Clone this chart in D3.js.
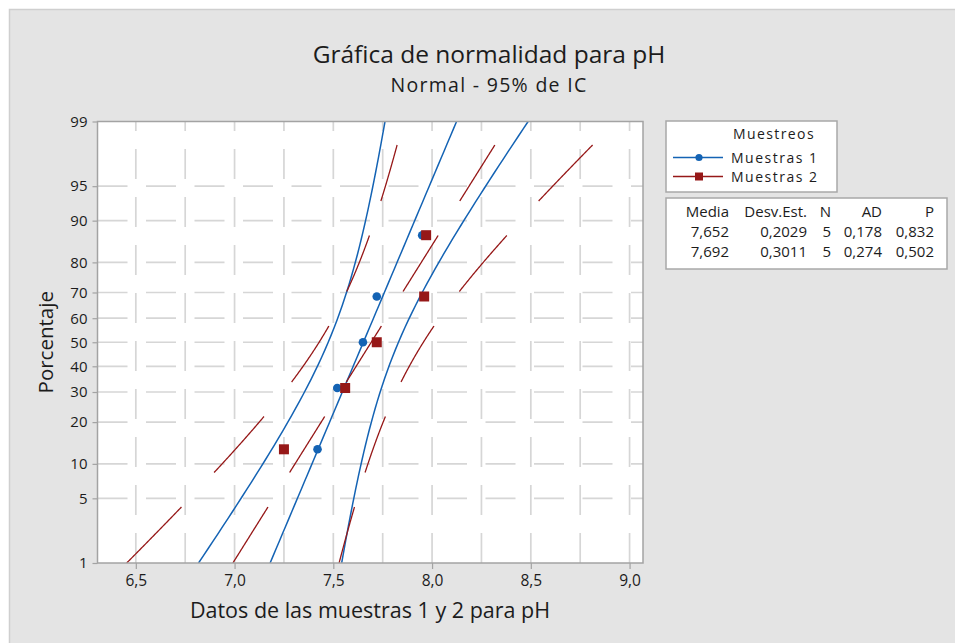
<!DOCTYPE html>
<html>
<head>
<meta charset="utf-8">
<script src="https://cdn.jsdelivr.net/npm/d3@7"></script>
<style>
  body { margin: 0; background: #ffffff; }
  svg { display: block; }
  text { font-family: "Open Sans", "Noto Sans", "DejaVu Sans", sans-serif; fill: #1c1c1c; }
</style>
</head>
<body>
<svg id="chart" width="955" height="643"></svg>
<script>
// ---- data ----
const seriesNames = ["Muestras 1", "Muestras 2"];
const muestras1 = [7.42, 7.52, 7.65, 7.72, 7.95];
const muestras2 = [7.25, 7.56, 7.72, 7.96, 7.97];
const adValues = ["0,178", "0,274"];
const pValues = ["0,832", "0,502"];
const pctTicks = [1, 5, 10, 20, 30, 40, 50, 60, 70, 80, 90, 95, 99];
const xTicks = [6.5, 7.0, 7.5, 8.0, 8.5, 9.0];
const xGridValues = [6.5, 6.75, 7.0, 7.25, 7.5, 7.75, 8.0, 8.25, 8.5, 8.75, 9.0];
const tableHeaders = ["Media", "Desv.Est.", "N", "AD", "P"];
const confLevel = 0.95;

// ---- helpers ----
// inverse standard normal CDF (Acklam)
function probit(p) {
  const a = [-3.969683028665376e+01, 2.209460984245205e+02, -2.759285104469687e+02, 1.383577518672690e+02, -3.066479806614716e+01, 2.506628277459239e+00];
  const b = [-5.447609879822406e+01, 1.615858368580409e+02, -1.556989798598866e+02, 6.680131188771972e+01, -1.328068155288572e+01];
  const c = [-7.784894002430293e-03, -3.223964580411365e-01, -2.400758277161838e+00, -2.549732539343734e+00, 4.374664141464968e+00, 2.938163982698783e+00];
  const d = [7.784695709041462e-03, 3.224671290700398e-01, 2.445134137142996e+00, 3.754408661907416e+00];
  const pl = 0.02425, ph = 1 - pl;
  let q, r;
  if (p < pl) {
    q = Math.sqrt(-2 * Math.log(p));
    return (((((c[0]*q+c[1])*q+c[2])*q+c[3])*q+c[4])*q+c[5]) / ((((d[0]*q+d[1])*q+d[2])*q+d[3])*q+1);
  }
  if (p > ph) {
    q = Math.sqrt(-2 * Math.log(1 - p));
    return -(((((c[0]*q+c[1])*q+c[2])*q+c[3])*q+c[4])*q+c[5]) / ((((d[0]*q+d[1])*q+d[2])*q+d[3])*q+1);
  }
  q = p - 0.5; r = q * q;
  return (((((a[0]*r+a[1])*r+a[2])*r+a[3])*r+a[4])*r+a[5])*q / (((((b[0]*r+b[1])*r+b[2])*r+b[3])*r+b[4])*r+1);
}
// gamma for half-integer / integer arguments
function gammaHalf(x) {
  if (Math.abs(x - 0.5) < 1e-9) return Math.sqrt(Math.PI);
  if (Math.abs(x - 1) < 1e-9) return 1;
  return (x - 1) * gammaHalf(x - 1);
}
function c4(n) {
  return Math.sqrt(2 / (n - 1)) * gammaHalf(n / 2) / gammaHalf((n - 1) / 2);
}
const comma = (f) => (v) => d3.format(f)(v).replace(".", ",");

// ---- layout ----
const svg = d3.select("#chart");
const plot = { left: 97.5, right: 643, top: 121.5, bottom: 563 };

// background panel
svg.append("rect").attr("x", 9.5).attr("y", 9.5).attr("width", 960).attr("height", 650)
  .attr("fill", "#e4e4e4").attr("stroke", "#cfcfcf").attr("stroke-width", 1.5);
svg.append("rect").attr("x", plot.left).attr("y", plot.top)
  .attr("width", plot.right - plot.left).attr("height", plot.bottom - plot.top)
  .attr("fill", "#ffffff");

const zEdge = probit(pctTicks[pctTicks.length - 1] / 100);
const x = d3.scaleLinear().domain([6.306, 9.068]).range([plot.left, plot.right]);
const y = d3.scaleLinear().domain([-zEdge, zEdge]).range([plot.bottom, plot.top]);

// grid
const grid = svg.append("g").attr("stroke", "#d6d6d6").attr("stroke-width", 1.7).attr("fill", "none");
grid.selectAll("line.v").data(xGridValues).join("line").attr("class", "v")
  .attr("x1", d => x(d)).attr("x2", d => x(d))
  .attr("y1", plot.bottom).attr("y2", plot.top)
  .attr("stroke-dasharray", "30,18");
grid.selectAll("line.h").data(pctTicks.slice(1, -1)).join("line").attr("class", "h")
  .attr("x1", plot.left).attr("x2", plot.right)
  .attr("y1", d => y(probit(d / 100))).attr("y2", d => y(probit(d / 100)))
  .attr("stroke-dasharray", "30,18.5");

// clip
svg.append("clipPath").attr("id", "plotClip").append("rect")
  .attr("x", plot.left).attr("y", plot.top)
  .attr("width", plot.right - plot.left).attr("height", plot.bottom - plot.top);

// ---- series ----
const series = [
  { name: seriesNames[0], values: muestras1, color: "#1463b4", marker: "circle", dashed: false },
  { name: seriesNames[1], values: muestras2, color: "#961818", marker: "square", dashed: true }
];
const zc = probit(1 - (1 - confLevel) / 2);

series.forEach(s => {
  s.n = s.values.length;
  s.mean = d3.mean(s.values);
  s.sd = d3.deviation(s.values);
  const k = 1 - c4(s.n) ** 2;
  s.fit = z => s.mean + z * s.sd;
  s.half = z => zc * s.sd * Math.sqrt(1 / s.n + z * z * k);
  const sorted = s.values.slice().sort(d3.ascending);
  s.points = sorted.map((v, i) => ({ v, z: probit((i + 1 - 0.3) / (s.n + 0.4)) }));
});

// pieces of the z-range that are stroked (dashed series are broken along the vertical)
function strokePieces(dashed) {
  if (!dashed) return [[-zEdge, zEdge]];
  const pieces = [];
  const period = 90.5, dash = 56;
  for (let py = plot.bottom; py > plot.top; py -= period) {
    const end = Math.max(py - dash, plot.top);
    pieces.push([y.invert(py), y.invert(end)]);
  }
  return pieces;
}

const lineGen = d3.line().x(d => x(d.v)).y(d => y(d.z));
const plotG = svg.append("g").attr("clip-path", "url(#plotClip)");

series.forEach(s => {
  const curves = [
    z => s.fit(z),
    z => s.fit(z) - s.half(z),
    z => s.fit(z) + s.half(z)
  ];
  const pieces = strokePieces(s.dashed);
  const g = plotG.append("g");
  curves.forEach(f => {
    pieces.forEach(([z0, z1]) => {
      const pts = d3.range(0, 61).map(i => {
        const z = z0 + (z1 - z0) * i / 60;
        return { v: f(z), z };
      });
      g.append("path").attr("d", lineGen(pts))
        .attr("fill", "none").attr("stroke", s.color)
        .attr("stroke-width", s.dashed ? 1.3 : 1.5);
    });
  });
});

// markers on top of lines
series.forEach(s => {
  const g = svg.append("g").attr("fill", s.color);
  if (s.marker === "circle") {
    g.selectAll("circle").data(s.points).join("circle")
      .attr("cx", d => x(d.v)).attr("cy", d => y(d.z)).attr("r", 4.3);
  } else {
    g.selectAll("rect").data(s.points).join("rect")
      .attr("x", d => x(d.v) - 5).attr("y", d => y(d.z) - 5)
      .attr("width", 10).attr("height", 10);
  }
});

// frame
svg.append("rect").attr("x", plot.left).attr("y", plot.top)
  .attr("width", plot.right - plot.left).attr("height", plot.bottom - plot.top)
  .attr("fill", "none").attr("stroke", "#a3a3a3").attr("stroke-width", 1.5);

// ---- axes ----
const xAxis = d3.axisBottom(x).tickValues(xTicks).tickSize(6).tickPadding(6)
  .tickFormat(comma(".1f"));
const gx = svg.append("g").attr("transform", `translate(0,${plot.bottom})`).call(xAxis);
gx.select(".domain").remove();
gx.selectAll(".tick line").attr("stroke", "#a3a3a3").attr("stroke-width", 1.2);
gx.selectAll(".tick text").attr("font-size", 15.5).attr("fill", "#1c1c1c")
  .style("font-family", '"Open Sans", sans-serif');

const yAxis = d3.axisLeft(y).tickValues(pctTicks.map(p => probit(p / 100)))
  .tickFormat((d, i) => pctTicks[i]).tickSize(5).tickPadding(5);
const gy = svg.append("g").attr("transform", `translate(${plot.left},0)`).call(yAxis);
gy.select(".domain").remove();
gy.selectAll(".tick line").attr("stroke", "#a3a3a3").attr("stroke-width", 1.2);
gy.selectAll(".tick text").attr("font-size", 15).attr("fill", "#1c1c1c")
  .style("font-family", '"Open Sans", sans-serif');

// ---- titles ----
svg.append("text").attr("x", 489).attr("y", 63).attr("text-anchor", "middle")
  .attr("font-size", 24.5).text("Gráfica de normalidad para pH");
svg.append("text").attr("x", 489).attr("y", 92).attr("text-anchor", "middle")
  .attr("font-size", 19.5).attr("letter-spacing", 1.3).text("Normal - 95% de IC");
svg.append("text").attr("x", 370).attr("y", 618).attr("text-anchor", "middle")
  .attr("font-size", 21.5).text("Datos de las muestras 1 y 2 para pH");
svg.append("text").attr("transform", `translate(53,${(plot.top + plot.bottom) / 2}) rotate(-90)`)
  .attr("text-anchor", "middle").attr("font-size", 20.5).text("Porcentaje");

// ---- legend ----
const lg = svg.append("g");
lg.append("rect").attr("x", 666).attr("y", 121).attr("width", 171).attr("height", 71)
  .attr("fill", "#ffffff").attr("stroke", "#a8a8a8").attr("stroke-width", 1.5);
lg.append("text").attr("x", 774).attr("y", 138.5).attr("text-anchor", "middle")
  .attr("font-size", 14).attr("letter-spacing", 1.4).text("Muestreos");
series.forEach((s, i) => {
  const ly = 157.5 + i * 19;
  lg.append("line").attr("x1", 673).attr("x2", 723).attr("y1", ly).attr("y2", ly)
    .attr("stroke", s.color).attr("stroke-width", 1.5);
  if (s.marker === "circle") {
    lg.append("circle").attr("cx", 699).attr("cy", ly).attr("r", 3.6).attr("fill", s.color);
  } else {
    lg.append("rect").attr("x", 695).attr("y", ly - 4).attr("width", 8).attr("height", 8).attr("fill", s.color);
  }
  lg.append("text").attr("x", 731).attr("y", ly + 5).attr("font-size", 14)
    .attr("letter-spacing", 1.5).text(s.name);
});

// ---- statistics table ----
const tg = svg.append("g");
tg.append("rect").attr("x", 666).attr("y", 198).attr("width", 281).attr("height", 71)
  .attr("fill", "#ffffff").attr("stroke", "#a8a8a8").attr("stroke-width", 1.5);
const colRight = [729, 807, 831, 882, 934];
tableHeaders.forEach((h, j) => {
  tg.append("text").attr("x", colRight[j]).attr("y", 217).attr("text-anchor", "end")
    .attr("font-size", 15).text(h);
});
series.forEach((s, i) => {
  const row = [comma(".3f")(s.mean), comma(".4f")(s.sd), String(s.n), adValues[i], pValues[i]];
  row.forEach((v, j) => {
    tg.append("text").attr("x", colRight[j]).attr("y", 237 + i * 20).attr("text-anchor", "end")
      .attr("font-size", 15).text(v);
  });
});
</script>
</body>
</html>
